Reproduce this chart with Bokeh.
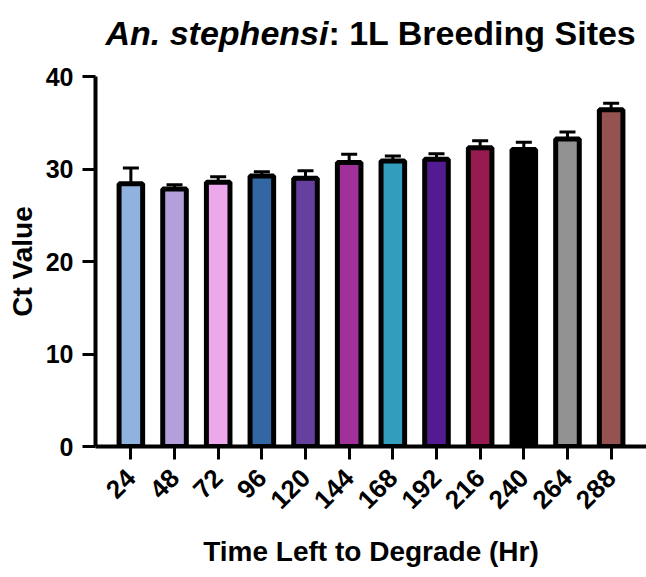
import math
from bokeh.plotting import figure
from bokeh.layouts import column
from bokeh.models import (ColumnDataSource, FactorRange, Range1d, Whisker, TeeHead,
                          FixedTicker)
from bokeh.core.properties import value
from bokeh.embed import file_html
from bokeh.resources import INLINE

hours = ["24", "48", "72", "96", "120", "144", "168", "192", "216", "240", "264", "288"]
ct_mean = [28.4, 27.85, 28.57, 29.25, 29.0, 30.7, 30.87, 31.05, 32.3, 32.1, 33.25, 36.4]
ct_err = [1.7, 0.45, 0.6, 0.45, 0.8, 0.9, 0.53, 0.6, 0.75, 0.8, 0.75, 0.7]
bar_colors = ["#8FB3DE", "#B39FDA", "#EDA8EC", "#3367A3", "#66409E", "#A2309A",
              "#339DBE", "#521B92", "#951A50", "#000000", "#929292", "#945350"]
y_ticks = [0, 10, 20, 30, 40]
title_parts = ["An. stephensi", ": 1L Breeding Sites"]
title_styles = ["bold italic", "bold"]

FONT = "Liberation Sans"
W = 646
TITLE_H = 60
TITLE_SIZE = 34
LEFT = 95

# ---------- title strip (mixed italic / upright text) ----------
tf = figure(width=W, height=TITLE_H, x_range=Range1d(LEFT, W), y_range=Range1d(TITLE_H, 0),
            x_axis_type=None, y_axis_type=None, output_backend="svg",
            toolbar_location=None, min_border_left=LEFT, min_border_right=0,
            min_border_top=0, min_border_bottom=0)
tf.outline_line_color = None
tf.xgrid.visible = False
tf.ygrid.visible = False
start_x = 105
first_w = 6.557 * TITLE_SIZE  # Arial/Liberation bold-italic advance of "An. stephensi"
tsrc = ColumnDataSource(dict(x=[start_x, start_x + first_w], y=[32, 32],
                             text=title_parts, style=title_styles))
tf.text(x="x", y="y", text="text", source=tsrc, text_font=value(FONT),
        text_font_style="style", text_font_size=f"{TITLE_SIZE}px",
        text_align="left", text_baseline="alphabetic", text_color="black")

# ---------- main bar chart ----------
src = ColumnDataSource(dict(
    hour=hours,
    ct=ct_mean,
    upper=[m + e for m, e in zip(ct_mean, ct_err)],
    color=bar_colors,
))

p = figure(
    x_range=FactorRange(*hours, range_padding=0.31, range_padding_units="absolute"),
    y_range=Range1d(0, 40),
    width=W, height=577 - TITLE_H,
    output_backend="svg", toolbar_location=None,
    min_border_left=LEFT, min_border_right=0, min_border_top=16, min_border_bottom=131,
)
p.outline_line_color = None
p.xgrid.visible = False
p.ygrid.visible = False

p.vbar(x="hour", top="ct", width=0.54, fill_color="color", line_color="black",
       line_width=5, source=src)

wh = Whisker(base="hour", lower="ct", upper="upper", source=src,
             line_color="black", line_width=3,
             upper_head=TeeHead(size=16, line_width=3, line_color="black"),
             lower_head=None)
p.add_layout(wh)

for ax in (p.xaxis, p.yaxis):
    ax.axis_line_width = 4
    ax.axis_line_color = "black"
    ax.major_tick_line_width = 3
    ax.major_tick_line_color = "black"
    ax.major_tick_out = 13
    ax.major_tick_in = 0
    ax.minor_tick_line_color = None
    ax.major_label_text_font = FONT
    ax.major_label_text_font_style = "bold"
    ax.major_label_text_color = "black"
    ax.axis_label_text_font = FONT
    ax.axis_label_text_font_style = "bold"
    ax.axis_label_text_font_size = "28px"
    ax.axis_label_text_color = "black"

p.yaxis.ticker = FixedTicker(ticks=y_ticks)
p.yaxis.major_label_text_font_size = "25px"
p.yaxis.major_label_standoff = 9
p.yaxis.axis_label = "Ct Value"
p.yaxis.axis_label_standoff = 5

p.xaxis.major_label_orientation = math.pi / 4
p.xaxis.major_label_text_font_size = "26px"
p.xaxis.major_label_standoff = 14
p.xaxis.axis_label = "Time Left to Degrade (Hr)"
p.xaxis.axis_label_standoff = 16

layout = column(tf, p, spacing=0)
open("out.html", "w").write(file_html(layout, INLINE))
